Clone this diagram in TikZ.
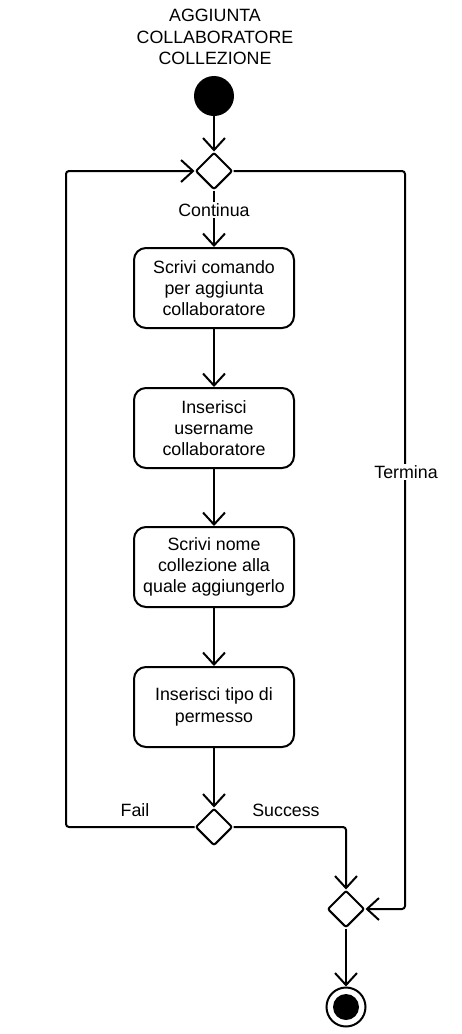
\documentclass[tikz,border=0pt]{standalone}
\usepackage{fontspec}
\setmainfont{Liberation Sans}
\usetikzlibrary{arrows.meta,shapes.geometric}
\begin{document}
\begin{tikzpicture}[x=1pt,y=-1pt,
  every node/.style={font=\fontsize{17.8}{21.3}\selectfont},
  act/.style={draw,line width=2pt,rounded corners=12pt,minimum width=160pt,minimum height=80pt,align=center,inner sep=0pt},
  dec/.style={draw,line width=2pt,diamond,minimum width=37pt,minimum height=37pt,inner sep=0pt,rounded corners=2pt},
  flow/.style={line width=2pt,-{Straight Barb[length=12pt,width=22pt,line width=2pt]},rounded corners=3pt},
  lbl/.style={fill=white,inner sep=1pt}]
\useasboundingbox (0,0) rectangle (462,1034);
\node[align=center] (title) at (215,37) {AGGIUNTA\\COLLABORATORE\\COLLEZIONE};
\node[circle,fill=black,minimum size=40pt,inner sep=0pt] (start) at (214,96) {};
\node[dec] (d1) at (214,171) {};
\node[act] (a1) at (214,288) {Scrivi comando\\per aggiunta\\collaboratore};
\node[act] (a2) at (214,428) {Inserisci\\username\\collaboratore};
\node[act] (a3) at (214,567) {Scrivi nome\\collezione alla\\quale aggiungerlo};
\node[act] (a4) at (214,707) {Inserisci tipo di\\permesso};
\node[dec] (d2) at (214,827) {};
\node[dec] (d3) at (346,909) {};
\node[circle,draw,line width=2pt,minimum size=39pt,inner sep=0pt] (end) at (346,1007) {};
\node[circle,fill=black,minimum size=26pt,inner sep=0pt] at (end) {};
\coordinate (cl1) at (66,827);
\coordinate (cl2) at (66,171);
\coordinate (cr1) at (405,171);
\coordinate (cr2) at (405,909);
\coordinate (cs) at (346,827);
\draw[flow] (start) -- (d1);
\draw[flow] (d1) -- (a1);
\draw[flow] (a1) -- (a2);
\draw[flow] (a2) -- (a3);
\draw[flow] (a3) -- (a4);
\draw[flow] (a4) -- (d2);
\draw[flow] (d2.west) -- (cl1) -- (cl2) -- (d1.west);
\draw[flow] (d1.east) -- (cr1) -- (cr2) -- (d3.east);
\draw[flow] (d2.east) -- (cs) -- (d3.north);
\draw[flow] (d3) -- (end);
\node[lbl] (cont) at (214,210) {Continua};
\node[lbl] (term) at (406,472) {Termina};
\node at (135,810) (fail) {Fail};
\node at (286,810) (succ) {Success};
\end{tikzpicture}
\end{document}
